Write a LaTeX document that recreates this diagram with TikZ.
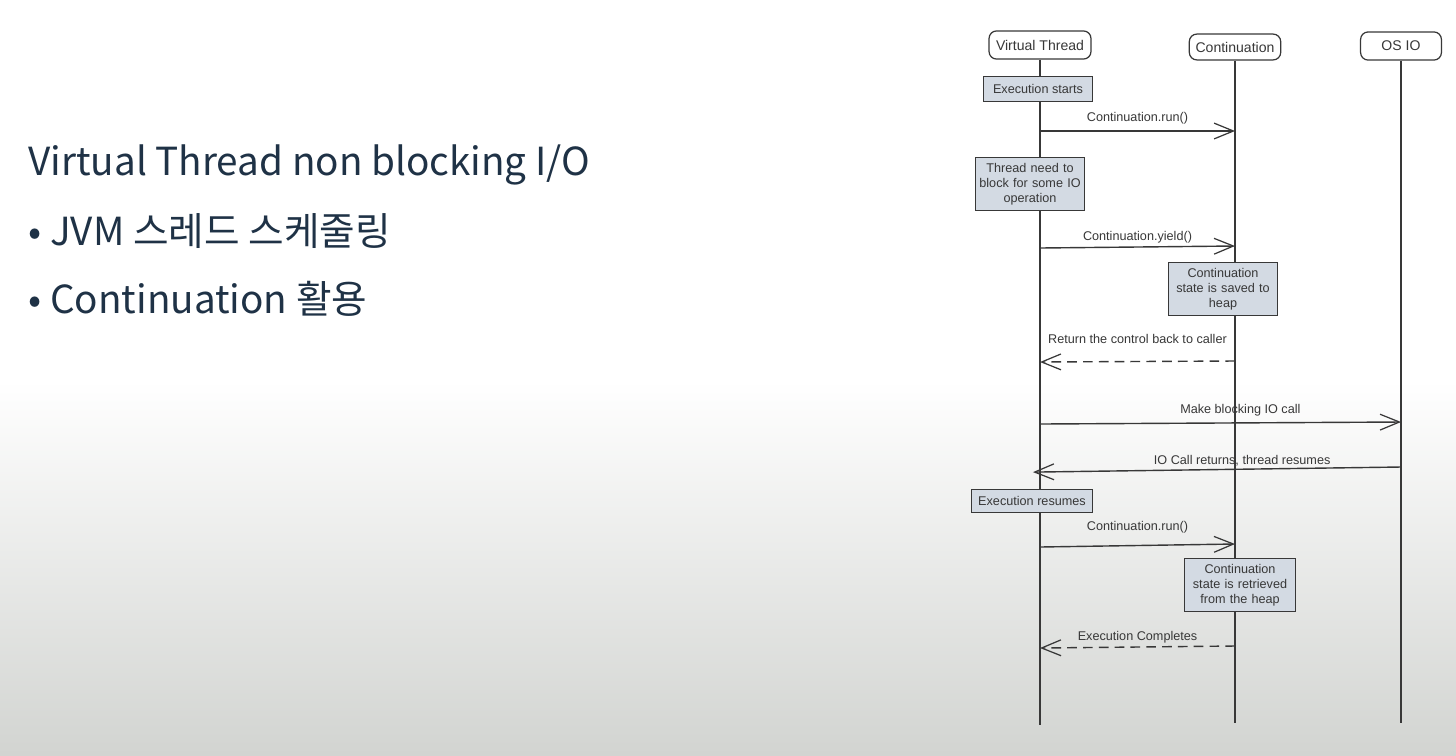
\documentclass[tikz,border=0pt]{standalone}
\usepackage{fontspec}
\setmainfont{Liberation Sans}
\newfontfamily\krfont{Noto Sans CJK KR}
\usetikzlibrary{arrows.meta, positioning}
\definecolor{titlenavy}{HTML}{1F3246}
\definecolor{linegray}{HTML}{383838}
\definecolor{notefill}{HTML}{D3DAE3}
\definecolor{bggray}{HTML}{D2D4D1}
\tikzset{
    lifehead/.style={
        rectangle,
        rounded corners=1.5mm,
        draw=linegray,
        fill=white,
        line width=0.7pt,
        minimum height=16pt,
        inner sep=1pt,
        font=\fontsize{8}{9}\selectfont,
        text=linegray
    },
    notebox/.style={
        rectangle,
        draw=linegray,
        fill=notefill,
        line width=0.6pt,
        align=center,
        inner sep=2pt,
        font=\fontsize{7.2}{8.5}\selectfont,
        text=linegray
    },
    lifeline/.style={
        draw=linegray,
        line width=0.8pt
    },
    msg/.style={
        -{Straight Barb[length=11pt, width=9pt, line width=0.7pt]},
        draw=linegray,
        line width=0.8pt
    },
    reply/.style={
        msg,
        dash pattern=on 5.5pt off 3.5pt
    },
    msglabel/.style={
        font=\fontsize{7.2}{8.5}\selectfont,
        text=linegray,
        inner sep=1pt
    },
    slidetext/.style={
        anchor=base west,
        inner sep=0pt,
        font=\krfont\fontsize{22}{27}\selectfont,
        text=titlenavy
    }
}

\begin{document}
\begin{tikzpicture}[x=0.02cm, y=-0.02cm]
    \fill[white] (0,0) rectangle (1456,380);
    \shade[top color=white, bottom color=bggray] (0,380) rectangle (1456,755);
    \useasboundingbox (0,0) rectangle (1456,755);

    % slide text
    \node[slidetext] (title) at (28,175) {Virtual Thread non blocking I/O};
    \node[slidetext] (item1) at (28,245) {• JVM 스레드 스케줄링};
    \node[slidetext] (item2) at (28,313) {• Continuation 활용};

    % participants
    \node[lifehead, minimum width=58pt] (vt) at (1040,45) {Virtual Thread};
    \node[lifehead, minimum width=52pt, minimum height=14.7pt] (cont) at (1235,47) {Continuation};
    \node[lifehead, minimum width=46pt] (osio) at (1401,46) {OS IO};
    \coordinate (vtend) at (1040,725);
    \coordinate (contend) at (1235,723);
    \coordinate (osioend) at (1401,723);

    \draw[lifeline] (vt) -- (vtend);
    \draw[lifeline] (cont) -- (contend);
    \draw[lifeline] (osio) -- (osioend);

    % notes
    \node[notebox, minimum width=62pt, minimum height=14pt] (start) at (1038,89) {Execution starts};
    \node[notebox, text width=58pt, minimum height=30pt] (block) at (1030,184) {Thread need to\\block for some IO\\operation};
    \node[notebox, text width=58pt, minimum height=30pt] (saved) at (1223,289) {Continuation\\state is saved to\\heap};
    \node[notebox, minimum width=69pt, minimum height=13.6pt] (resumes) at (1032,501) {Execution resumes};
    \node[notebox, text width=59pt, minimum height=30pt] (retrieved) at (1240,585) {Continuation\\state is retrieved\\from the heap};

    % messages
    \draw[msg] (vt |- 0,131) -- node[msglabel, above=2.3pt] {Continuation.run()} (cont |- 0,131);
    \draw[msg] (vt |- 0,248) -- node[msglabel, above=0.6pt] {Continuation.yield()} (cont |- 0,246);
    \draw[reply] (cont |- 0,361) -- node[msglabel, above=8.5pt] {Return the control back to caller} (vt |- 0,362);
    \draw[msg] (vt |- 0,424) -- node[msglabel, above=2.3pt, pos=0.555] {Make blocking IO call} (osio |- 0,422);
    \draw[msg, shorten >=-4pt] (osio |- 0,467) -- node[msglabel, above=0.6pt, pos=0.44] {IO Call returns, thread resumes} (vt |- 0,472);
    \draw[msg] (vt |- 0,547) -- node[msglabel, above=5.7pt] {Continuation.run()} (cont |- 0,544);
    \draw[reply] (cont |- 0,646) -- node[msglabel, above=0.6pt] {Execution Completes} (vt |- 0,648);
\end{tikzpicture}
\end{document}
